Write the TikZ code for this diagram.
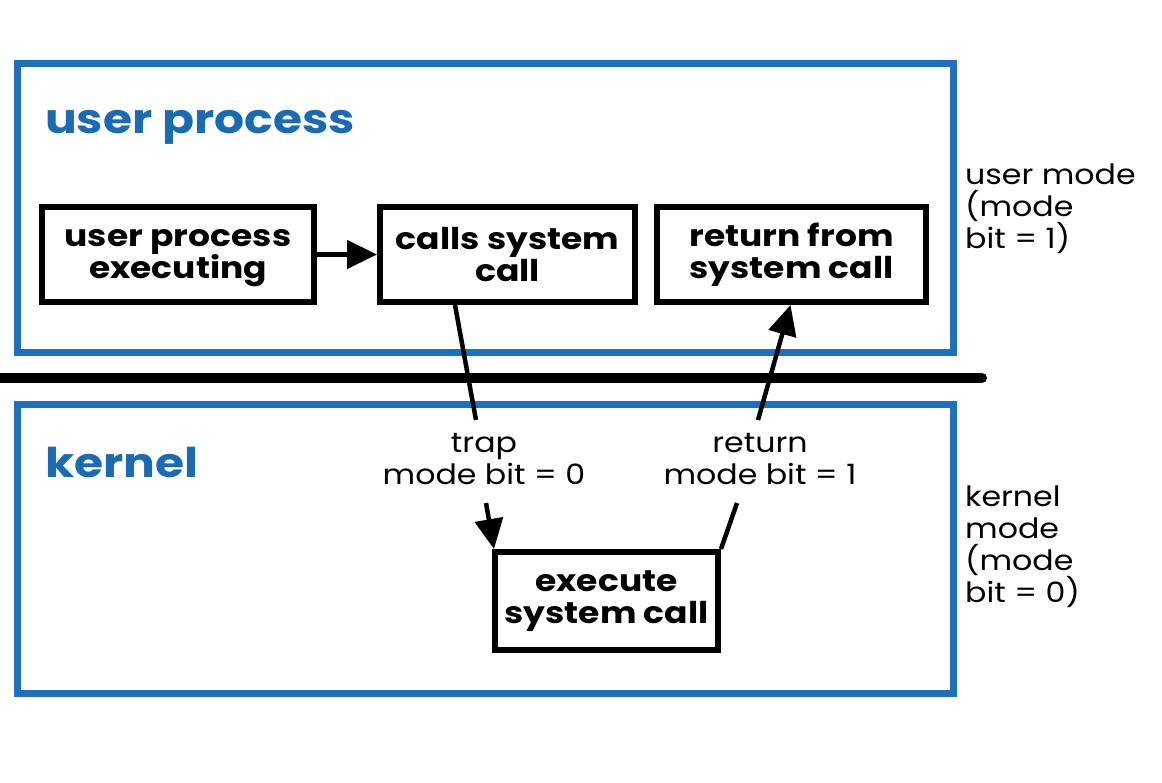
\documentclass[tikz,border=0pt]{standalone}
\usepackage{fontspec}
\setmainfont{Poppins}
\newfontfamily\wfont{Poppins}[FakeStretch=1.15]
\newfontfamily\lfont{Poppins}[FakeStretch=1.13]
\usetikzlibrary{arrows.meta,calc}
\definecolor{frameblue}{RGB}{30,112,190}
\definecolor{titleblue}{RGB}{25,108,180}
\tikzset{
  frame/.style={draw=frameblue, line width=7pt, minimum width=936pt, minimum height=289pt, inner sep=0pt},
  stepbox/.style={draw=black, line width=6pt, align=center, inner sep=0pt, font=\wfont\fontsize{30}{32}\selectfont\bfseries},
  arr/.style={line width=4.5pt, -{Triangle[length=30pt,width=28pt]}},
  conn/.style={line width=4.5pt},
  lab/.style={align=center, inner sep=0pt, font=\lfont\fontsize{28}{32}\selectfont},
  sidelab/.style={align=left, inner sep=0pt, anchor=north west, font=\lfont\fontsize{28}{32}\selectfont},
  title/.style={anchor=base west, inner sep=0pt, text=titleblue, font=\wfont\fontsize{41}{44}\selectfont\bfseries}
}
\begin{document}
\begin{tikzpicture}[x=1pt,y=-1pt]
\useasboundingbox (0,0) rectangle (1162,782);
% frames
\node[frame] (U) at (485,208) {};
\node[frame] (K) at (485,549) {};
\draw[line width=10pt, line cap=round] (-10,378) -- (982,378);
% titles
\node[title] (ut) at (45,133) {user process};
\node[title] (kt) at (45,477) {kernel};
% boxes
\node[stepbox, minimum width=272pt, minimum height=95pt] (A) at (178,254.5) {user process\\\smash{executing}};
\node[stepbox, minimum width=255pt, minimum height=95pt] (B) at (507.5,254.5) {calls system\\call};
\node[stepbox, minimum width=269pt, minimum height=95pt] (C) at (791.5,254.5) {return from\\system call};
\node[stepbox, minimum width=223pt, minimum height=98pt] (D) at (606.5,601) {execute\\system call};
% arrows
\draw[arr] (A.east) -- (B.west);
\coordinate (t1) at ([xshift=78pt]B.south west);
\coordinate (ta) at (476,420);
\coordinate (tb) at (486,503);
\draw[conn] (t1) -- (ta);
\draw[arr] (tb) -- ([xshift=2pt]D.north west);
\coordinate (rb) at (737,503);
\coordinate (ra) at (758,420);
\coordinate (r2) at ([xshift=-1pt]C.south);
\draw[conn] (D.north east) -- (rb);
\draw[arr] (ra) -- (r2);
% labels
\node[lab] (trap) at (484,459) {trap\\mode bit = 0};
\node[lab] (ret) at (760,459) {return\\mode bit = 1};
\node[sidelab] (um) at (965,164) {user mode\\(mode\\bit = 1)};
\node[sidelab] (km) at (965,486) {kernel\\mode\\(mode\\bit = 0)};
\end{tikzpicture}
\end{document}
